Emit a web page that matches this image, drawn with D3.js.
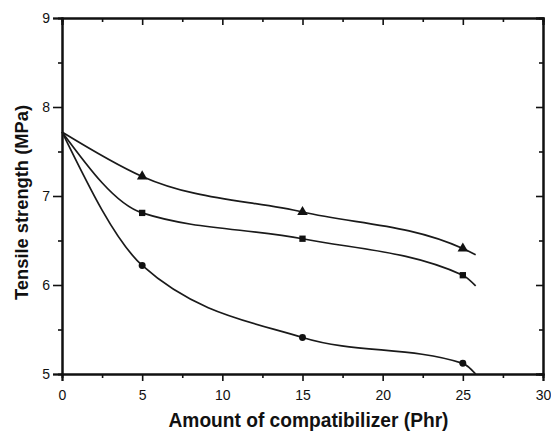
<!DOCTYPE html>
<meta charset="utf-8">
<script src="https://d3js.org/d3.v7.min.js"></script>
<style>
  body { margin: 0; background: #fff; }
  text { font-family: "Liberation Sans", Arial, sans-serif; fill: #111; }
</style>
<div id="my_dataviz"></div>
<script>
// values
var amount = [0, 5, 15, 25];
var triangleVals = [7.72, 7.22, 6.82, 6.41];
var squareVals = [7.72, 6.81, 6.52, 6.11];
var circleVals = [7.72, 6.22, 5.41, 5.12];
// where the fitted curves stop, just past the last sample
var fitEndX = 25.8;
var fitEndVals = [6.34, 5.99, 5.0];
var xTicks = [0, 5, 10, 15, 20, 25, 30];
var yTicks = [5, 6, 7, 8, 9];

var margin = {top: 18, right: 8, bottom: 57, left: 62},
    width = 551 - margin.left - margin.right,
    height = 431 - margin.top - margin.bottom;

var svg = d3.select("#my_dataviz")
  .append("svg")
    .attr("width", 551)
    .attr("height", 431)
  .append("g")
    .attr("transform", "translate(" + margin.left + "," + margin.top + ")");

var x = d3.scaleLinear().domain([0, 30]).range([0, width]);
var y = d3.scaleLinear().domain([5, 9]).range([height, 0]);

var minorX = d3.range(2.5, 30, 5);
var minorY = d3.range(5.5, 9, 1);

// bottom axis, ticks outward
svg.append("g")
  .attr("transform", "translate(0," + height + ")")
  .call(d3.axisBottom(x).tickValues(xTicks).tickSize(7).tickPadding(9));
svg.append("g")
  .attr("transform", "translate(0," + height + ")")
  .call(d3.axisBottom(x).tickValues(minorX).tickSize(4).tickFormat(""));

// left axis, ticks outward
svg.append("g")
  .call(d3.axisLeft(y).tickValues(yTicks).tickSize(9).tickPadding(3).tickFormat(d3.format("d")));
svg.append("g")
  .call(d3.axisLeft(y).tickValues(minorY).tickSize(4).tickFormat(""));

// top axis, ticks inward
svg.append("g")
  .call(d3.axisTop(x).tickValues(xTicks).tickSize(-7).tickFormat(""));
svg.append("g")
  .call(d3.axisTop(x).tickValues(minorX).tickSize(-4).tickFormat(""));

// right axis, ticks inward
svg.append("g")
  .attr("transform", "translate(" + width + ",0)")
  .call(d3.axisRight(y).tickValues(yTicks).tickSize(-7).tickFormat(""));
svg.append("g")
  .attr("transform", "translate(" + width + ",0)")
  .call(d3.axisRight(y).tickValues(minorY).tickSize(-4).tickFormat(""));

svg.selectAll(".domain").attr("stroke", "#111").attr("stroke-width", 2);
svg.selectAll(".tick line").attr("stroke", "#111").attr("stroke-width", 1.6);
svg.selectAll(".tick text").style("font-size", "14px").attr("fill", "#111");

// fitted curves
var series = [triangleVals, squareVals, circleVals];
var symbols = [d3.symbolTriangle, d3.symbolSquare, d3.symbolCircle];
var sizes = [48, 40, 38];

var line = d3.line()
  .x(function(d) { return x(d[0]); })
  .y(function(d) { return y(d[1]); })
  .curve(d3.curveMonotoneX);

series.forEach(function(vals, i) {
  var pts = amount.map(function(a, j) { return [a, vals[j]]; });
  pts.push([fitEndX, fitEndVals[i]]);
  svg.append("path")
    .datum(pts)
    .attr("fill", "none")
    .attr("stroke", "#1a1a1a")
    .attr("stroke-width", 1.7)
    .attr("d", line);

  svg.append("g")
    .selectAll("path")
    .data(pts.slice(1, 4))
    .enter()
    .append("path")
      .attr("transform", function(d) { return "translate(" + x(d[0]) + "," + y(d[1]) + ")"; })
      .attr("d", d3.symbol().type(symbols[i]).size(sizes[i]))
      .attr("fill", "#111");
});

// axis titles
svg.append("text")
  .attr("x", width / 2 + 6)
  .attr("y", height + 53)
  .attr("text-anchor", "middle")
  .attr("textLength", 280)
  .attr("lengthAdjust", "spacingAndGlyphs")
  .style("font-size", "19.5px")
  .style("font-weight", "bold")
  .text("Amount of compatibilizer (Phr)");

svg.append("text")
  .attr("transform", "rotate(-90)")
  .attr("x", -184.5)
  .attr("y", -34)
  .attr("text-anchor", "middle")
  .attr("textLength", 195)
  .attr("lengthAdjust", "spacingAndGlyphs")
  .style("font-size", "18px")
  .style("font-weight", "bold")
  .text("Tensile strength (MPa)");
</script>
